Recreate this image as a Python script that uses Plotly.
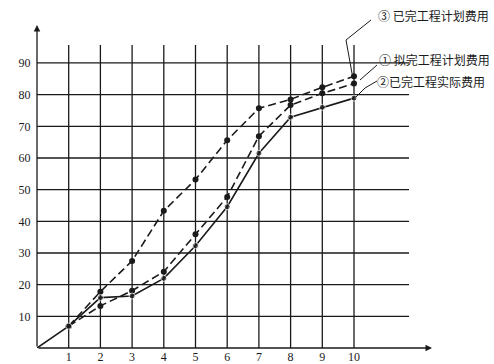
import plotly.graph_objects as go

# ---- data ----
months = [0, 1, 2, 3, 4, 5, 6, 7, 8, 9, 10]
x_ticks = [1, 2, 3, 4, 5, 6, 7, 8, 9, 10]
y_ticks = [10, 20, 30, 40, 50, 60, 70, 80, 90]

# ③ 已完工程计划费用 (upper dashed)
bcwp = [None, 6.9, 17.8, 27.5, 43.3, 53.2, 65.6, 75.7, 78.5, 82.3, 85.8]
# ① 拟完工程计划费用 (lower dashed)
bcws = [None, 6.9, 13.3, 18.1, 24.1, 35.9, 47.7, 66.9, 76.7, 80.4, 83.5]
# ② 已完工程实际费用 (solid)
acwp = [0, 6.9, 15.9, 16.4, 22.0, 32.3, 44.6, 61.5, 72.9, 76.0, 78.9]

label3 = "③ 已完工程计划费用"
label1 = "① 拟完工程计划费用"
label2 = "②已完工程实际费用"

# ---- layout geometry ----
W, H = 494, 364
ML, MB = 37, 16
PX_X = 31.7      # px per month
PX_Y = 3.167     # px per unit of cost
xmax = (W - ML) / PX_X
ymax = (H - MB) / PX_Y


def px(xp, yp):
    return (xp - ML) / PX_X, (H - MB - yp) / PX_Y


INK = "#1a1a1a"
fig = go.Figure()

sizes_solid = [0] + [6] * 10
fig.add_trace(go.Scatter(x=months, y=bcwp, mode="lines+markers", name=label3,
                         line=dict(color=INK, width=1.6, dash="8px,4px"),
                         marker=dict(color=INK, size=6)))
fig.add_trace(go.Scatter(x=months, y=bcws, mode="lines+markers", name=label1,
                         line=dict(color=INK, width=1.6, dash="8px,4px"),
                         marker=dict(color=INK, size=6)))
fig.add_trace(go.Scatter(x=months, y=acwp, mode="lines+markers", name=label2,
                         line=dict(color=INK, width=1.6),
                         marker=dict(color=INK, size=sizes_solid)))

shapes = []
grid_top = px(0, 45)[1]
grid_right = px(409, 0)[0]
for xv in x_ticks:
    shapes.append(dict(type="line", xref="x", yref="y", x0=xv, x1=xv, y0=0, y1=grid_top,
                       line=dict(color=INK, width=1.3), layer="below"))
for yv in y_ticks:
    shapes.append(dict(type="line", xref="x", yref="y", x0=0, x1=grid_right, y0=yv, y1=yv,
                       line=dict(color=INK, width=1.3), layer="below"))

# leader lines
def path(points):
    d = ""
    for i, (a, b) in enumerate(points):
        xa, ya = px(a, b)
        d += ("M" if i == 0 else "L") + f"{xa:.4f},{ya:.4f} "
    return d

for pts in ([(371, 20), (346, 40), (352.5, 76)],
            [(377, 65), (360, 80)],
            [(377, 81), (365, 88), (356, 97)]):
    shapes.append(dict(type="path", xref="x", yref="y", path=path(pts),
                       line=dict(color=INK, width=1)))

annotations = []
# axes with arrows
x_end = px(432, 0)[0]
y_end = px(0, 25)[1]
annotations.append(dict(x=x_end, y=0, ax=0, ay=0, xref="x", yref="y", axref="x", ayref="y",
                        showarrow=True, arrowhead=2, arrowsize=1, arrowwidth=1.3,
                        arrowcolor=INK, text=""))
annotations.append(dict(x=0, y=y_end, ax=0, ay=0, xref="x", yref="y", axref="x", ayref="y",
                        showarrow=True, arrowhead=2, arrowsize=1, arrowwidth=1.3,
                        arrowcolor=INK, text=""))
zx, zy = px(31.5, 355)
annotations.append(dict(x=zx, y=zy, xref="x", yref="y", text="0", showarrow=False,
                        font=dict(family="Liberation Serif", size=12, color=INK)))

for txt, (a, b) in ((label3, (376, 15)), (label1, (377, 59)), (label2, (375, 81))):
    xa, ya = px(a, b)
    annotations.append(dict(x=xa, y=ya, xref="x", yref="y", text=txt, showarrow=False,
                            xanchor="left", yanchor="middle",
                            font=dict(family="Noto Sans CJK SC", size=12, color=INK)))

fig.update_layout(
    width=W, height=H,
    margin=dict(l=ML, r=0, t=0, b=MB, pad=0),
    paper_bgcolor="white", plot_bgcolor="white",
    showlegend=False,
    shapes=shapes, annotations=annotations,
    xaxis=dict(range=[0, xmax], tickvals=x_ticks, ticktext=[str(v) for v in x_ticks],
               showgrid=False, zeroline=False, showline=False, ticks="",
               tickfont=dict(family="Liberation Serif", size=12, color=INK)),
    yaxis=dict(range=[0, ymax], tickvals=y_ticks, ticktext=[str(v) for v in y_ticks],
               showgrid=False, zeroline=False, showline=False,
               ticks="outside", ticklen=3, tickcolor="rgba(0,0,0,0)",
               tickfont=dict(family="Liberation Serif", size=12, color=INK)),
)

fig.write_html("out.html", config={"displayModeBar": False},
               post_script="document.body.style.margin='0';document.body.style.overflow='hidden';")
